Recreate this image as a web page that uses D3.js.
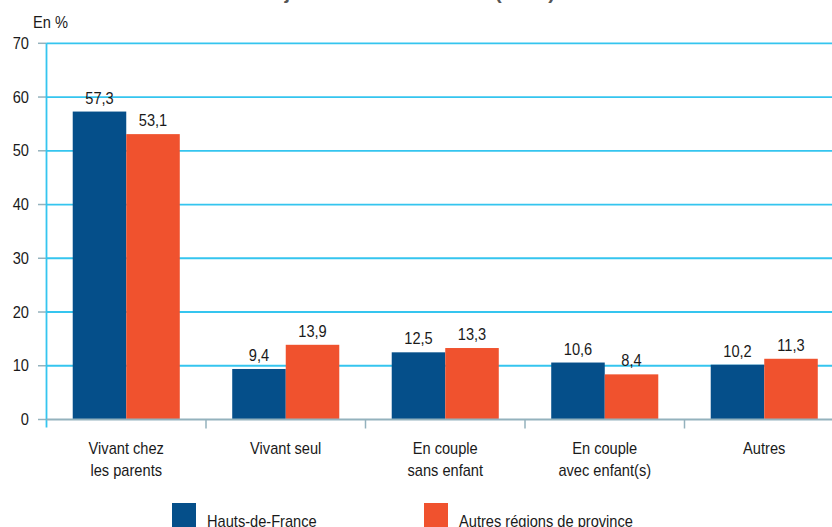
<!DOCTYPE html>
<html>
<head>
<meta charset="utf-8">
<script src="https://cdn.jsdelivr.net/npm/d3@7"></script>
<style>
  body { margin: 0; background: #fff; }
  svg text { font-family: "Liberation Sans", Arial, sans-serif; fill: #1a1a1a; }
</style>
</head>
<body>
<svg id="chart" width="832" height="527"></svg>
<script>
// categories (two lines each)
var categories = [
    ["Vivant chez", "les parents"],
    ["Vivant seul"],
    ["En couple", "sans enfant"],
    ["En couple", "avec enfant(s)"],
    ["Autres"]
];
var series = ["Hauts-de-France", "Autres régions de province"];
var hautsDeFrance = [57.3, 9.4, 12.5, 10.6, 10.2];
var autresRegions = [53.1, 13.9, 13.3, 8.4, 11.3];
var yTicks = [0, 10, 20, 30, 40, 50, 60, 70];

var colors = ["#054f8a", "#f0522e"];

var svg = d3.select("#chart");

var x0 = 46.5, x1 = 844, yTop = 43.3, yBottom = 419.5;

var x = d3.scaleBand()
    .domain(d3.range(categories.length))
    .range([x0, x1])
    .paddingInner(0)
    .paddingOuter(0);

var xSub = d3.scaleBand()
    .domain(d3.range(series.length))
    .range([0, x.bandwidth()])
    .paddingOuter(0.49)
    .paddingInner(0);

var y = d3.scaleLinear().domain([0, 70]).range([yBottom, yTop]);

// title (clipped at the top in the original)
svg.append("text")
    .attr("class", "title")
    .attr("x", 33)
    .attr("y", -1)
    .attr("textLength", 522)
    .attr("lengthAdjust", "spacingAndGlyphs")
    .style("font-weight", "bold")
    .style("font-size", "18px")
    .style("fill", "#555")
    .text("Mode de cohabitation des jeunes de 18 à 29 ans (en %)");

// "En %"
svg.append("text")
    .attr("x", 33)
    .attr("y", 28)
    .style("font-size", "17px")
    .text("En %");

// gridlines
svg.append("g")
    .selectAll("line")
    .data(yTicks.filter(d => d > 0))
    .enter()
    .append("line")
    .attr("x1", x0)
    .attr("x2", 832)
    .attr("y1", d => y(d))
    .attr("y2", d => y(d))
    .style("stroke", "#35c5ef")
    .style("stroke-width", 1.8);

// y tick marks and labels
svg.append("g")
    .selectAll("line")
    .data(yTicks)
    .enter()
    .append("line")
    .attr("x1", 38)
    .attr("x2", x0)
    .attr("y1", d => y(d))
    .attr("y2", d => y(d))
    .style("stroke", "#94b2bd")
    .style("stroke-width", 1.5);

svg.append("g")
    .selectAll("text")
    .data(yTicks)
    .enter()
    .append("text")
    .attr("x", 29)
    .attr("y", d => y(d))
    .attr("text-anchor", "end")
    .attr("dominant-baseline", "central")
    .style("font-size", "17px")
    .text(d => d);

// bars
var groups = svg.append("g")
    .selectAll("g")
    .data(categories.map((c, i) => [hautsDeFrance[i], autresRegions[i]]))
    .enter()
    .append("g")
    .attr("transform", (d, i) => "translate(" + x(i) + ",0)");

groups.selectAll("rect")
    .data(d => d)
    .enter()
    .append("rect")
    .attr("x", (d, j) => xSub(j))
    .attr("width", xSub.bandwidth())
    .attr("y", d => y(d))
    .attr("height", d => yBottom - y(d))
    .style("fill", (d, j) => colors[j]);

groups.selectAll("text")
    .data(d => d)
    .enter()
    .append("text")
    .attr("x", (d, j) => xSub(j) + xSub.bandwidth() / 2)
    .attr("y", d => y(d) - 8)
    .attr("text-anchor", "middle")
    .style("font-size", "17px")
    .text(d => d.toFixed(1).replace(".", ","));

// y axis line
svg.append("line")
    .attr("x1", x0).attr("x2", x0)
    .attr("y1", yTop).attr("y2", yBottom + 8)
    .style("stroke", "#35c5ef")
    .style("stroke-width", 1.8);

// x axis
svg.append("line")
    .attr("x1", x0).attr("x2", 832)
    .attr("y1", yBottom).attr("y2", yBottom)
    .style("stroke", "#94b2bd")
    .style("stroke-width", 2);

svg.append("g")
    .selectAll("line")
    .data(d3.range(1, categories.length))
    .enter()
    .append("line")
    .attr("x1", d => x(d))
    .attr("x2", d => x(d))
    .attr("y1", yBottom)
    .attr("y2", yBottom + 9)
    .style("stroke", "#94b2bd")
    .style("stroke-width", 1.5);

// category labels
svg.append("g")
    .selectAll("text")
    .data(categories)
    .enter()
    .append("text")
    .attr("x", (d, i) => x(i) + x.bandwidth() / 2)
    .attr("y", 454)
    .attr("text-anchor", "middle")
    .style("font-size", "17px")
    .each(function(d) {
        var t = d3.select(this);
        d.forEach((line, k) => {
            t.append("tspan")
                .attr("x", t.attr("x"))
                .attr("dy", k === 0 ? 0 : 22)
                .text(line);
        });
    });

// legend
var legendX = [172, 424];
svg.append("g")
    .selectAll("rect")
    .data(series)
    .enter()
    .append("rect")
    .attr("x", (d, i) => legendX[i])
    .attr("y", 503)
    .attr("width", 24)
    .attr("height", 26)
    .style("fill", (d, i) => colors[i]);

svg.append("g")
    .selectAll("text")
    .data(series)
    .enter()
    .append("text")
    .attr("x", (d, i) => legendX[i] + 35)
    .attr("y", 527)
    .style("font-size", "17px")
    .text(d => d);

// the original uses a narrow face: squeeze glyphs horizontally
svg.selectAll("text:not(.title)").each(function() {
    var el = this;
    var spans = d3.select(el).selectAll("tspan");
    if (spans.size() > 0) {
        spans.each(function() {
            var w = this.getComputedTextLength();
            d3.select(this).attr("textLength", w * 0.86).attr("lengthAdjust", "spacingAndGlyphs");
        });
    } else {
        var w = el.getComputedTextLength();
        d3.select(el).attr("textLength", w * 0.86).attr("lengthAdjust", "spacingAndGlyphs");
    }
});
</script>
</body>
</html>
